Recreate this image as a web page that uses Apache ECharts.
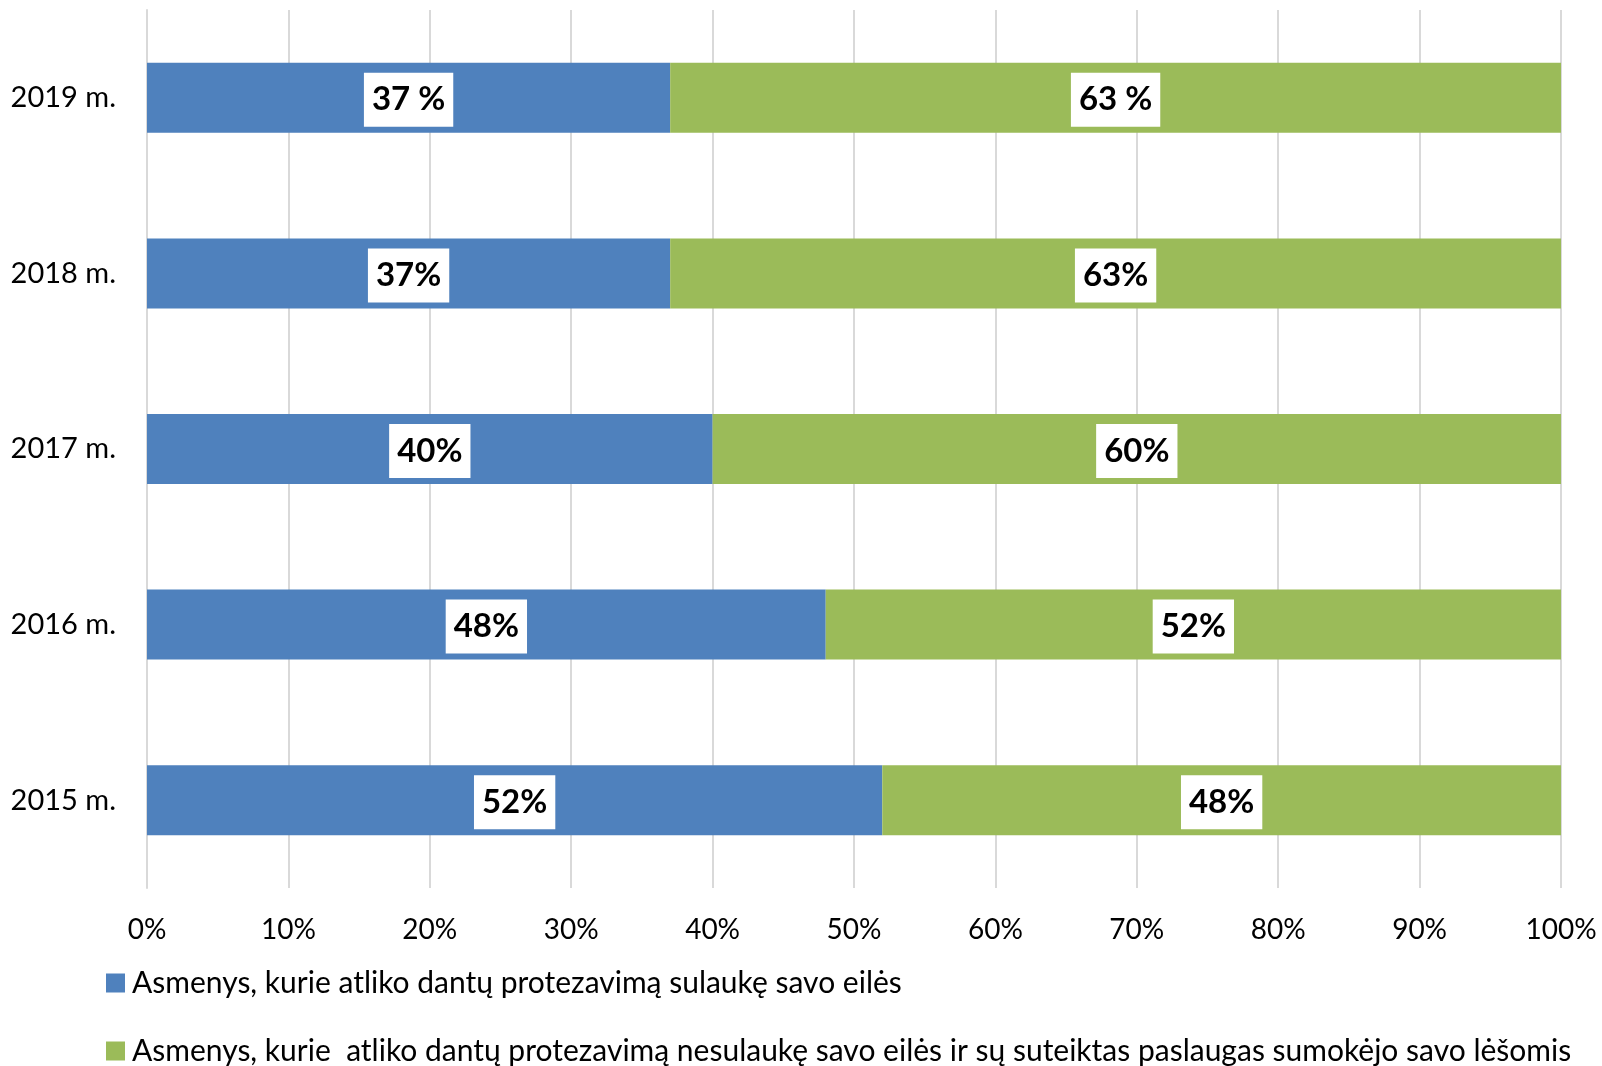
<!DOCTYPE html>
<html><head><meta charset="utf-8">
<script src="https://cdn.jsdelivr.net/npm/echarts@6/dist/echarts.min.js"></script>
<style>html,body{margin:0;padding:0;background:#fff}#c{width:1602px;height:1066px}</style>
</head><body><div id="c"></div>
<script>
const categories = ['2015 m.', '2016 m.', '2017 m.', '2018 m.', '2019 m.'];
const blueValues = [52, 48, 40, 37, 37];
const greenValues = [48, 52, 60, 63, 63];
const blueLabels = ['52%', '48%', '40%', '37%', '37 %'];
const greenLabels = ['48%', '52%', '60%', '63%', '63 %'];
const xTicks = [0, 10, 20, 30, 40, 50, 60, 70, 80, 90, 100];
const seriesNames = [
  'Asmenys, kurie atliko dantų protezavimą sulaukę savo eilės',
  'Asmenys, kurie  atliko dantų protezavimą nesulaukę savo eilės ir sų suteiktas paslaugas sumokėjo savo lėšomis'
];
const FONT = 'Lato';
const chart = echarts.init(document.getElementById('c'), null, {renderer: 'canvas'});
const labelStyle = (arr) => ({
  show: true, position: 'inside', offset: [0, 2],
  formatter: p => arr[p.dataIndex],
  color: '#000', fontFamily: FONT, fontWeight: 'bold', fontSize: 33,
  backgroundColor: '#fff', padding: [9, 8, 8, 8], lineHeight: 37
});
const legendBase = {
  orient: 'horizontal', left: 101, itemGap: 10,
  itemWidth: 19, itemHeight: 19, icon: 'rect',
  textStyle: {fontFamily: FONT, fontSize: 30, color: '#000', padding: [0, 0, 0, 2]}
};
chart.setOption({
  animation: false,
  grid: {left: 147, right: 41, top: 10, bottom: 178, containLabel: false},
  legend: [
    Object.assign({}, legendBase, {top: 963, data: [seriesNames[0]]}),
    Object.assign({}, legendBase, {top: 1031, data: [seriesNames[1]]})
  ],
  xAxis: {
    type: 'value', min: 0, max: 100, interval: 10,
    axisLine: {show: false}, axisTick: {show: false},
    splitLine: {lineStyle: {color: '#d9d9d9', width: 2}},
    axisLabel: {formatter: v => xTicks.includes(v) ? v + '%' : '', fontFamily: FONT, fontSize: 28, color: '#000', margin: 28}
  },
  yAxis: {
    type: 'category', data: categories,
    axisLine: {show: true, lineStyle: {color: '#d9d9d9', width: 2}},
    axisTick: {show: false},
    axisLabel: {fontFamily: FONT, fontSize: 29, color: '#000', margin: 31}
  },
  series: [
    {name: seriesNames[0], type: 'bar', stack: 's', data: blueValues, barWidth: 70,
     itemStyle: {color: '#4F81BD'}, label: labelStyle(blueLabels)},
    {name: seriesNames[1], type: 'bar', stack: 's', data: greenValues, barWidth: 70,
     itemStyle: {color: '#9BBB59'}, label: labelStyle(greenLabels)}
  ]
});
</script></body></html>
